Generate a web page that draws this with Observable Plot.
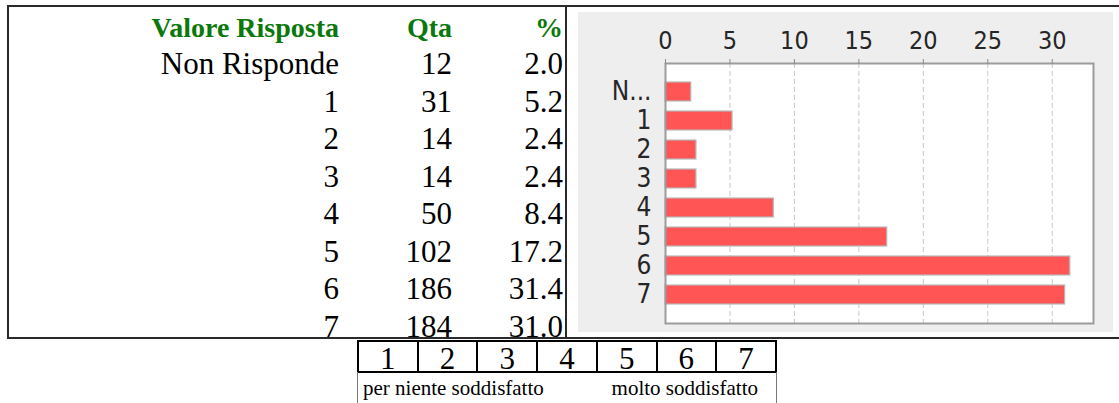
<!DOCTYPE html>
<html><head><meta charset="utf-8">
<script src="https://cdn.jsdelivr.net/npm/d3@7"></script>
<script src="https://cdn.jsdelivr.net/npm/@observablehq/plot@0.6"></script>
<style>
html,body{margin:0;padding:0;background:#fff;}
#page{position:relative;width:1119px;height:403px;overflow:hidden;font-family:"Liberation Serif","Times New Roman",serif;color:#000;}
.t{position:absolute;height:0;line-height:0;white-space:nowrap;}
.ln{position:absolute;}
#chart{position:absolute;left:578px;top:12px;width:535px;height:320px;background:#eeeeee;}
</style></head><body><div id="page"><div id="chart"></div></div>
<script>
// ---- data ----
const headers = ["Valore Risposta", "Qta", "%"];
const responses = ["Non Risponde", "1", "2", "3", "4", "5", "6", "7"];
const counts = [12, 31, 14, 14, 50, 102, 186, 184];
const percents = [2.0, 5.2, 2.4, 2.4, 8.4, 17.2, 31.4, 31.0];
const chartLabels = ["N...", "1", "2", "3", "4", "5", "6", "7"];
const xTicks = [0, 5, 10, 15, 20, 25, 30];
const scalePoints = ["1", "2", "3", "4", "5", "6", "7"];
const scaleEnds = ["per niente soddisfatto", "molto soddisfatto"];

const page = document.getElementById("page");

// text helper: baseline positioning with line-height 0 (Liberation Serif ascent .891, descent .216)
function addText(str, {x, align = "right", baseline, size, bold = false, color = "#000", width = 400}) {
  const d = document.createElement("div");
  d.className = "t";
  d.textContent = str;
  const top = baseline - 0.3375 * size;
  d.style.top = top + "px";
  d.style.fontSize = size + "px";
  if (bold) d.style.fontWeight = "bold";
  d.style.color = color;
  d.style.width = width + "px";
  d.style.textAlign = align;
  if (align === "right") d.style.left = (x - width) + "px";
  else if (align === "left") d.style.left = x + "px";
  else d.style.left = (x - width / 2) + "px";
  page.appendChild(d);
}
function addLine(x, y, w, h, color) {
  const d = document.createElement("div");
  d.className = "ln";
  Object.assign(d.style, {left: x + "px", top: y + "px", width: w + "px", height: h + "px", background: color});
  page.appendChild(d);
}

// ---- left table ----
const colRight = [339, 452, 563];
headers.forEach((h, j) => addText(h, {x: colRight[j], baseline: 37, size: 28, bold: true, color: "#0b780b"}));
responses.forEach((r, i) => {
  const b = 74.5 + 37.5 * i;
  addText(r, {x: colRight[0], baseline: b, size: 31});
  addText(String(counts[i]), {x: colRight[1], baseline: b, size: 31});
  addText(percents[i].toFixed(1), {x: colRight[2], baseline: b, size: 31});
});

// outer borders
addLine(7, 5, 1112, 2, "#2a2a2a");
addLine(7, 5, 2, 334, "#2a2a2a");
addLine(7, 337, 1112, 2, "#2a2a2a");
addLine(565, 5, 2, 334, "#2a2a2a");

// ---- chart ----
const rows = chartLabels.map((l, i) => ({label: l, pct: percents[i]}));
const chart = Plot.plot({
  width: 535,
  height: 320,
  marginLeft: 87,
  marginRight: 20,
  marginTop: 51,
  marginBottom: 9,
  style: {background: "transparent", fontFamily: "'DejaVu Sans Condensed','DejaVu Sans',sans-serif", color: "#333"},
  x: {domain: [0, 33.2], axis: null},
  y: {domain: chartLabels, padding: 1 / 3, insetTop: 5, insetBottom: 5, axis: null},
  marks: [
    Plot.frame({fill: "white", stroke: null}),
    Plot.ruleX(xTicks.filter(d => d > 0), {stroke: "#c8c8c8", strokeDasharray: "5,3"}),
    Plot.barX(rows, {x: "pct", y: "label", fill: "#ff5555", stroke: "#b8b8b8", strokeWidth: 1.2}),
    Plot.frame({stroke: "#9c9c9c", strokeWidth: 2}),
    Plot.axisX(xTicks, {anchor: "top", tickSize: 5, tickPadding: 10, stroke: "#8a8a8a", fill: "#262626", fontSize: 25, label: null, tickFormat: d => String(d)}),
    Plot.axisY({anchor: "left", tickSize: 0, tickPadding: 14, fill: "#262626", fontSize: 26, label: null})
  ]
});
document.getElementById("chart").appendChild(chart);

// ---- scale legend (footer) ----
const fx0 = 357, fw = 59.7;
scalePoints.forEach((p, i) => {
  const x = fx0 + i * fw;
  addLine(x, 340, 2, 33, "#000");
  addText(p, {x: x + fw / 2 + 1, align: "center", baseline: 369, size: 31, width: 60});
});
addLine(fx0 + scalePoints.length * fw, 340, 2, 33, "#000");
addLine(fx0, 340, scalePoints.length * fw + 2, 2, "#000");
addLine(fx0, 371, scalePoints.length * fw + 2, 2, "#000");
addLine(fx0, 372, 1, 31, "#777");
addLine(fx0 + scalePoints.length * fw + 1, 372, 1, 31, "#777");
addText(scaleEnds[0], {x: 363, align: "left", baseline: 395, size: 21});
addText(scaleEnds[1], {x: 758, align: "right", baseline: 395, size: 21});
</script></body></html>
